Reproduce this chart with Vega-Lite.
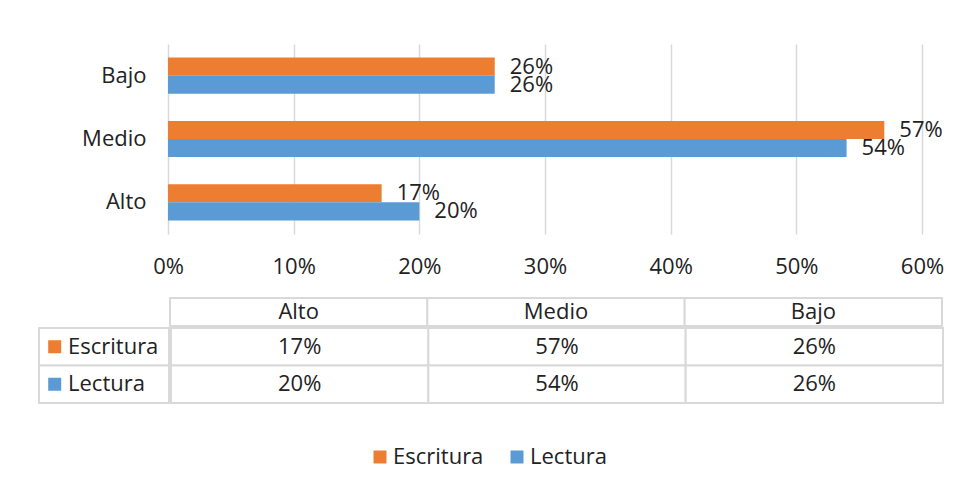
{
  "$schema": "https://vega.github.io/schema/vega-lite/v6.json",
  "padding": {"left": 38, "top": 44, "right": 5, "bottom": 5},
  "background": "white",
  "spacing": 20,
  "datasets": {
    "niveles": [
      {"nivel": "Alto", "serie": "Escritura", "valor": 0.17},
      {"nivel": "Alto", "serie": "Lectura", "valor": 0.20},
      {"nivel": "Medio", "serie": "Escritura", "valor": 0.57},
      {"nivel": "Medio", "serie": "Lectura", "valor": 0.54},
      {"nivel": "Bajo", "serie": "Escritura", "valor": 0.26},
      {"nivel": "Bajo", "serie": "Lectura", "valor": 0.26}
    ]
  },
  "config": {
    "view": {"stroke": null},
    "font": "Open Sans",
    "axis": {"labelFont": "Open Sans", "labelFontSize": 22, "labelColor": "#222222"}
  },
  "vconcat": [
    {
      "spacing": 0,
      "hconcat": [
        {
          "width": 1,
          "height": 1,
          "data": {"values": [{"vacio": 0}]},
          "mark": {"type": "rect", "fill": "white", "opacity": 0},
          "encoding": {}
        },
        {
          "width": 754,
          "height": 190,
          "data": {"name": "niveles"},
          "encoding": {
            "y": {
              "field": "nivel", "type": "nominal", "sort": ["Bajo", "Medio", "Alto"],
              "scale": {"paddingInner": 0.43, "paddingOuter": 0.215},
              "axis": {"title": null, "domain": false, "ticks": false, "labelPadding": 22, "minExtent": 128, "maxExtent": 128}
            },
            "yOffset": {"field": "serie", "type": "nominal", "sort": ["Escritura", "Lectura"]},
            "x": {
              "field": "valor", "type": "quantitative",
              "scale": {"domain": [0, 0.6]},
              "axis": {"title": null, "format": ".0%", "values": [0, 0.1, 0.2, 0.3, 0.4, 0.5, 0.6], "grid": true, "gridColor": "#d9d9d9", "gridWidth": 1.5, "domain": false, "ticks": false, "labelPadding": 22, "labelFlush": false, "labelOverlap": false}
            }
          },
          "layer": [
            {
              "mark": {"type": "bar"},
              "encoding": {
                "color": {"field": "serie", "type": "nominal", "scale": {"domain": ["Escritura", "Lectura"], "range": ["#ED7D31", "#5B9BD5"]}, "legend": null}
              }
            },
            {
              "mark": {"type": "text", "align": "left", "baseline": "middle", "dx": 15, "fontSize": 22, "font": "Open Sans", "fill": "#222222"},
              "encoding": {"text": {"field": "valor", "type": "quantitative", "format": ".0%"}}
            }
          ]
        }
      ]
    },
    {
      "spacing": 0,
      "vconcat": [
        {
          "spacing": 0,
          "hconcat": [
            {
              "width": 130,
              "height": 28,
              "data": {"values": [{"vacio": 0}]},
              "mark": {"type": "rect", "fill": "white", "opacity": 0},
              "encoding": {}
            },
            {
              "width": 772,
              "height": 28,
              "data": {"name": "niveles"},
              "transform": [{"filter": "datum.serie === 'Escritura'"}],
              "encoding": {
                "x": {"field": "nivel", "type": "nominal", "sort": ["Alto", "Medio", "Bajo"], "scale": {"type": "band", "domain": ["Alto", "Medio", "Bajo"], "paddingInner": 0, "paddingOuter": 0}, "axis": null},
                "y": {"datum": "Encabezado", "type": "nominal", "scale": {"type": "band", "domain": ["Encabezado"], "paddingInner": 0, "paddingOuter": 0}, "axis": null}
              },
              "layer": [
                {"mark": {"type": "rect", "fill": "white", "stroke": "#d9d9d9", "strokeWidth": 2}},
                {
                  "mark": {"type": "text", "baseline": "middle", "fontSize": 22, "font": "Open Sans", "fill": "#222222"},
                  "encoding": {"text": {"field": "nivel"}}
                }
              ]
            }
          ]
        },
        {
          "spacing": 0,
          "hconcat": [
            {
              "width": 130,
              "height": 75,
              "data": {"name": "niveles"},
              "transform": [{"filter": "datum.nivel === 'Alto'"}],
              "encoding": {
                "y": {"field": "serie", "type": "nominal", "scale": {"type": "band", "domain": ["Escritura", "Lectura"], "paddingInner": 0, "paddingOuter": 0}, "axis": null}
              },
              "layer": [
                {
                  "mark": {"type": "rect", "fill": "white", "stroke": "#d9d9d9", "strokeWidth": 2},
                  "encoding": {
                    "x": {"datum": "Serie", "type": "nominal", "scale": {"type": "band", "domain": ["Serie"], "paddingInner": 0, "paddingOuter": 0}, "axis": null}
                  }
                },
                {
                  "mark": {"type": "point", "shape": "square", "size": 169, "filled": true, "opacity": 1, "xOffset": 15.7},
                  "encoding": {
                    "x": {"datum": "Serie", "type": "nominal", "bandPosition": 0, "scale": {"type": "band", "domain": ["Serie"], "paddingInner": 0, "paddingOuter": 0}, "axis": null},
                    "color": {"field": "serie", "type": "nominal", "legend": null}
                  }
                },
                {
                  "mark": {"type": "text", "align": "left", "baseline": "middle", "dx": 29, "fontSize": 22, "font": "Open Sans", "fill": "#222222"},
                  "encoding": {
                    "x": {"datum": "Serie", "type": "nominal", "bandPosition": 0, "scale": {"type": "band", "domain": ["Serie"], "paddingInner": 0, "paddingOuter": 0}, "axis": null},
                    "text": {"field": "serie"}
                  }
                }
              ]
            },
            {
              "width": 772,
              "height": 75,
              "data": {"name": "niveles"},
              "encoding": {
                "x": {"field": "nivel", "type": "nominal", "sort": ["Alto", "Medio", "Bajo"], "scale": {"type": "band", "domain": ["Alto", "Medio", "Bajo"], "paddingInner": 0, "paddingOuter": 0}, "axis": null},
                "y": {"field": "serie", "type": "nominal", "scale": {"type": "band", "domain": ["Escritura", "Lectura"], "paddingInner": 0, "paddingOuter": 0}, "axis": null}
              },
              "layer": [
                {"mark": {"type": "rect", "fill": "white", "stroke": "#d9d9d9", "strokeWidth": 2}},
                {
                  "mark": {"type": "text", "baseline": "middle", "fontSize": 22, "font": "Open Sans", "fill": "#222222"},
                  "encoding": {"text": {"field": "valor", "type": "quantitative", "format": ".0%"}}
                }
              ]
            }
          ]
        }
      ]
    },
    {
      "spacing": 0,
      "hconcat": [
        {
          "width": 333.5,
          "height": 66,
          "data": {"values": [{"vacio": 0}]},
          "mark": {"type": "rect", "fill": "white", "opacity": 0},
          "encoding": {}
        },
        {
          "width": 137,
          "height": 66,
          "data": {"name": "niveles"},
          "transform": [{"filter": "datum.nivel === 'Alto'"}],
          "encoding": {
            "x": {"field": "serie", "type": "nominal", "scale": {"type": "point", "domain": ["Escritura", "Lectura"], "padding": 0}, "axis": null}
          },
          "layer": [
            {
              "mark": {"type": "point", "shape": "square", "size": 169, "filled": true, "opacity": 1},
              "encoding": {"color": {"field": "serie", "type": "nominal", "legend": null}}
            },
            {
              "mark": {"type": "text", "align": "left", "baseline": "middle", "dx": 13, "fontSize": 22, "font": "Open Sans", "fill": "#222222"},
              "encoding": {"text": {"field": "serie"}}
            }
          ]
        }
      ]
    }
  ]
}
